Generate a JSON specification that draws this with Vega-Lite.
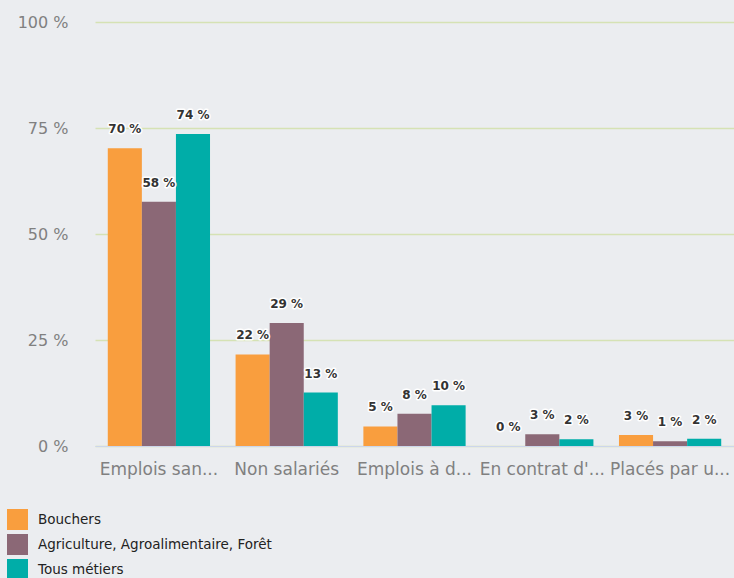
{
  "$schema": "https://vega.github.io/schema/vega-lite/v6.json",
  "autosize": "none",
  "width": 639,
  "height": 424,
  "padding": {"left": 95, "top": 22, "right": 0, "bottom": 132},
  "background": "#ebedf0",
  "config": {
    "view": {"stroke": null},
    "font": "DejaVu Sans"
  },
  "data": {
    "values": [
      {"cat": "Emplois san...", "serie": "Bouchers", "value": 70.2},
      {"cat": "Emplois san...", "serie": "Agriculture, Agroalimentaire, Forêt", "value": 57.6},
      {"cat": "Emplois san...", "serie": "Tous métiers", "value": 73.6},
      {"cat": "Non salariés", "serie": "Bouchers", "value": 21.6},
      {"cat": "Non salariés", "serie": "Agriculture, Agroalimentaire, Forêt", "value": 29.0},
      {"cat": "Non salariés", "serie": "Tous métiers", "value": 12.6},
      {"cat": "Emplois à d...", "serie": "Bouchers", "value": 4.6},
      {"cat": "Emplois à d...", "serie": "Agriculture, Agroalimentaire, Forêt", "value": 7.6},
      {"cat": "Emplois à d...", "serie": "Tous métiers", "value": 9.6},
      {"cat": "En contrat d'...", "serie": "Bouchers", "value": 0},
      {"cat": "En contrat d'...", "serie": "Agriculture, Agroalimentaire, Forêt", "value": 2.8},
      {"cat": "En contrat d'...", "serie": "Tous métiers", "value": 1.6},
      {"cat": "Placés par u...", "serie": "Bouchers", "value": 2.6},
      {"cat": "Placés par u...", "serie": "Agriculture, Agroalimentaire, Forêt", "value": 1.1},
      {"cat": "Placés par u...", "serie": "Tous métiers", "value": 1.7}
    ]
  },
  "encoding": {
    "x": {
      "field": "cat",
      "type": "nominal",
      "sort": null,
      "scale": {"paddingInner": 0.2, "paddingOuter": 0.1},
      "axis": {
        "title": null,
        "labelAngle": 0,
        "ticks": false,
        "domainColor": "#ccd6eb",
        "domainWidth": 1,
        "labelFontSize": 17,
        "labelColor": "#808080",
        "labelPadding": 15,
        "labelLimit": 200,
        "zindex": 1
      }
    },
    "xOffset": {
      "field": "serie",
      "type": "nominal",
      "sort": ["Bouchers", "Agriculture, Agroalimentaire, Forêt", "Tous métiers"],
      "scale": {"paddingInner": 0, "paddingOuter": 0}
    },
    "y": {
      "field": "value",
      "type": "quantitative",
      "scale": {"domain": [0, 100]},
      "axis": {
        "title": null,
        "values": [0, 25, 50, 75, 100],
        "labelExpr": "datum.value + ' %'",
        "domain": false,
        "ticks": false,
        "gridColor": "#d5e2b4",
        "gridWidth": 1.5,
        "labelFontSize": 16,
        "labelColor": "#808080",
        "labelPadding": 27
      }
    }
  },
  "layer": [
    {
      "mark": {"type": "bar"},
      "encoding": {
        "color": {
          "field": "serie",
          "type": "nominal",
          "scale": {
            "domain": ["Bouchers", "Agriculture, Agroalimentaire, Forêt", "Tous métiers"],
            "range": ["#f99e3e", "#8b6876", "#00ada8"]
          },
          "legend": {
            "title": null,
            "orient": "none",
            "legendX": -88,
            "legendY": 487,
            "symbolType": "square",
            "symbolSize": 441,
            "symbolStrokeWidth": 0,
            "symbolOpacity": 1,
            "labelFontSize": 13.5,
            "labelColor": "#222222",
            "labelOffset": 10,
            "rowPadding": 4,
            "labelLimit": 400
          }
        }
      }
    },
    {
      "mark": {"type": "text", "baseline": "bottom", "dy": -12, "fontSize": 12, "fontWeight": "bold", "stroke": "#ffffff", "strokeWidth": 3, "strokeJoin": "round", "fill": "#ffffff"},
      "encoding": {
        "text": {"field": "label", "type": "nominal"}
      },
      "transform": [{"calculate": "format(datum.value, '.0f') + ' %'", "as": "label"}]
    },
    {
      "mark": {"type": "text", "baseline": "bottom", "dy": -12, "fontSize": 12, "fontWeight": "bold", "fill": "#333333"},
      "encoding": {
        "text": {"field": "label", "type": "nominal"}
      },
      "transform": [{"calculate": "format(datum.value, '.0f') + ' %'", "as": "label"}]
    }
  ]
}
